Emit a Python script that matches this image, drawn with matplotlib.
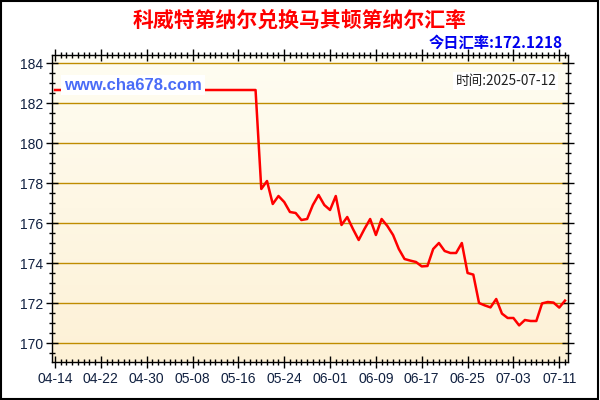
import matplotlib
matplotlib.use('Agg')
import matplotlib.pyplot as plt
import matplotlib.dates as mdates
from matplotlib.patches import Rectangle
from matplotlib.colors import LinearSegmentedColormap
import numpy as np
import pandas as pd

# daily rate KWD -> MKD, 2025-04-14 .. 2025-07-12
dates = pd.date_range('2025-04-14', '2025-07-12', freq='D')
rates = [
    182.65, 182.65, 182.65, 182.65, 182.65, 182.65, 182.65, 182.65, 182.65, 182.65,
    182.65, 182.65, 182.65, 182.65, 182.65, 182.65, 182.65, 182.65, 182.65, 182.65,
    182.65, 182.65, 182.65, 182.65, 182.65, 182.65, 182.65, 182.65, 182.65, 182.65,
    182.65, 182.65, 182.65, 182.65, 182.65, 182.65,
    177.70, 178.10, 176.95, 177.35, 177.05, 176.55, 176.50, 176.15, 176.20, 176.90,
    177.40, 176.90, 176.65, 177.35, 175.90, 176.30, 175.70, 175.15, 175.70, 176.20,
    175.40, 176.20, 175.85, 175.40, 174.70, 174.20, 174.12, 174.05, 173.83, 173.85,
    174.70, 175.00, 174.60, 174.50, 174.50, 175.00, 173.50, 173.42, 172.00, 171.88,
    171.78, 172.20, 171.47, 171.25, 171.25, 170.88, 171.15, 171.10, 171.10, 171.98,
    172.05, 172.02, 171.77, 172.12,
]
yticks = [170, 172, 174, 176, 178, 180, 182, 184]
title = '科威特第纳尔兑换马其顿第纳尔汇率'
today_rate = '今日汇率:172.1218'
stamp = '时间:2025-07-12'
site = 'www.cha678.com'

cjk = ['Noto Sans CJK SC', 'DejaVu Sans']
plt.rcParams['font.family'] = ['Liberation Sans', 'Noto Sans CJK SC']

fig = plt.figure(figsize=(6, 4), dpi=100)
fig.patch.set_facecolor('white')
ax = fig.add_axes([0.0867, 0.095, 0.86, 0.7675])

x0 = mdates.date2num(dates[0]) - 0.52
x1 = mdates.date2num(dates[-1]) + 0.53
y0, y1 = 169.05, 184.4

# cream gradient background, lighter at the top
grad = np.linspace(0, 1, 256).reshape(-1, 1)
cmap = LinearSegmentedColormap.from_list('bg', ['#FFFDF2', '#FDF1D6'])
ax.imshow(grad, aspect='auto', cmap=cmap, extent=[x0, x1, y0, y1],
          origin='upper', zorder=0)

for v in yticks:
    ax.axhline(v, color='#BF8C00', lw=1.0, zorder=1)

ax.plot(mdates.date2num(dates), rates, color='#FF0000', lw=1.8, zorder=3)

ax.set_xlim(x0, x1)
ax.set_ylim(y0, y1)

ax.set_yticks(yticks)
ax.set_yticks(np.arange(169.5, 184.5, 0.5), minor=True)
tick_dates = dates[::8]
ax.set_xticks(mdates.date2num(tick_dates))
ax.set_xticklabels([d.strftime('%m-%d') for d in tick_dates])
ax.set_xticks(mdates.date2num(dates), minor=True)

ax.tick_params(axis='both', which='major', direction='inout', length=9,
               width=1, colors='black', labelsize=10, labelcolor='#102040')
ax.tick_params(axis='both', which='minor', direction='inout', length=5,
               width=1, colors='black')
ax.tick_params(top=True, right=True, which='both')
ax.tick_params(axis='x', which='both', labeltop=False, pad=3)
ax.tick_params(axis='y', which='both', labelright=False, pad=2)
for s in ax.spines.values():
    s.set_color('black')
    s.set_linewidth(1)

fig.text(0.5, 0.95, title, ha='center', va='center', fontsize=15,
         fontweight='bold', color='#FF0000', family=cjk)
fig.text(0.938, 0.8925, today_rate, ha='right', va='center', fontsize=11,
         fontweight='bold', color='#0000EE', family=cjk)
fig.text(0.927, 0.7975, stamp, ha='right', va='center', fontsize=9.8,
         color='#222222', family=cjk,
         bbox=dict(facecolor='white', edgecolor='none', pad=1.5), zorder=5)
fig.text(0.107, 0.7875, site, ha='left', va='center', fontsize=12,
         fontweight='bold', color='#4A6CF7', family=['Liberation Sans'],
         bbox=dict(facecolor='white', edgecolor='none', pad=2), zorder=5)

fig.patches.append(Rectangle((0.002, 0.003), 0.995, 0.994, transform=fig.transFigure,
                             fill=False, edgecolor='black', lw=1.5))

fig.savefig('out.png', dpi=100)
